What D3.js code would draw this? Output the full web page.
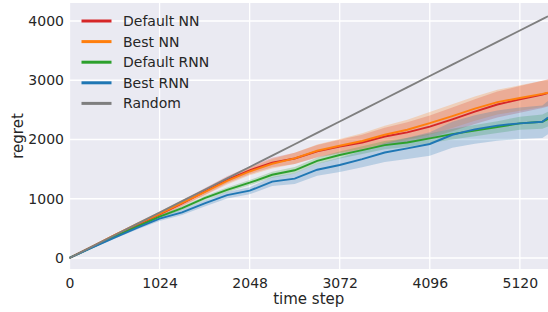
<!DOCTYPE html>
<html>
<head>
<meta charset="utf-8">
<script src="https://cdn.jsdelivr.net/npm/d3@7"></script>
<style>
  body { margin: 0; background: #fff; }
  text { font-family: "DejaVu Sans", sans-serif; fill: #262626; }
</style>
</head>
<body>
<div id="chart"></div>
<script>
const steps = [0, 256, 512, 768, 1024, 1280, 1536, 1792, 2048, 2304, 2560, 2816, 3072,
  3328, 3584, 3840, 4096, 4352, 4608, 4864, 5120, 5376, 5440]

const defaultNN = [0, 190, 380, 560, 735, 920, 1120, 1320, 1480, 1610, 1680, 1800, 1880,
  1950, 2050, 2120, 2216, 2340, 2470, 2590, 2678, 2760, 2785]
const bestNN = [0, 192, 385, 570, 745, 930, 1110, 1300, 1460, 1590, 1680, 1810, 1895,
  1975, 2080, 2165, 2275, 2395, 2520, 2630, 2700, 2770, 2790]
const defaultRNN = [0, 180, 360, 530, 697, 840, 1010, 1150, 1271, 1405, 1480, 1640, 1738,
  1820, 1905, 1950, 2020, 2090, 2150, 2210, 2273, 2300, 2345]
const bestRNN = [0, 175, 345, 510, 663, 770, 920, 1060, 1136, 1290, 1340, 1490, 1570,
  1670, 1780, 1850, 1924, 2080, 2170, 2235, 2273, 2300, 2370]
const randomPolicy = [0, 192, 384, 576, 768, 960, 1152, 1344, 1536, 1728, 1920, 2112, 2304,
  2496, 2688, 2880, 3072, 3264, 3456, 3648, 3840, 4032, 4080]

// half width of the shaded bands
const spreadDefaultNN = [0, 10, 20, 30, 40, 50, 55, 60, 65, 80, 95, 105, 115,
  130, 150, 170, 190, 200, 210, 220, 225, 230, 230]
const spreadBestNN = [0, 10, 20, 30, 40, 50, 55, 60, 65, 80, 95, 105, 115,
  130, 150, 170, 190, 200, 205, 210, 215, 220, 220]
const spreadDefaultRNN = [0, 8, 15, 20, 25, 30, 35, 40, 45, 50, 55, 55, 60,
  65, 70, 75, 80, 90, 95, 100, 110, 120, 125]
const spreadBestRNN = [0, 10, 20, 30, 40, 45, 50, 55, 60, 75, 90, 100, 120,
  140, 160, 180, 200, 220, 240, 255, 265, 275, 280]

const xTicks = [0, 1024, 2048, 3072, 4096, 5120]
const yTicks = [0, 1000, 2000, 3000, 4000]

const series = [
  { name: 'Default NN', values: defaultNN, spread: spreadDefaultNN, color: '#d62728' },
  { name: 'Best NN', values: bestNN, spread: spreadBestNN, color: '#ff7f0e' },
  { name: 'Default RNN', values: defaultRNN, spread: spreadDefaultRNN, color: '#2ca02c' },
  { name: 'Best RNN', values: bestRNN, spread: spreadBestRNN, color: '#1f77b4' },
  { name: 'Random', values: randomPolicy, spread: null, color: '#7f7f7f' }
]

const W = 548, H = 312
const margin = { top: 3, right: 0, bottom: 43, left: 69.5 }
const width = W - margin.left - margin.right
const height = H - margin.top - margin.bottom

const svg = d3.select('#chart').append('svg')
  .attr('width', W)
  .attr('height', H)

const g = svg.append('g')
  .attr('transform', `translate(${margin.left}, ${margin.top})`)

const x = d3.scaleLinear().domain([0, 5440]).range([0, width])
const y = d3.scaleLinear().domain([-186, 4304]).range([height, 0])

g.append('rect')
  .attr('width', width)
  .attr('height', height)
  .attr('fill', '#eaeaf2')

g.selectAll('.vgrid').data(xTicks)
  .enter().append('line')
    .attr('x1', d => x(d)).attr('x2', d => x(d))
    .attr('y1', 0).attr('y2', height)
    .attr('stroke', '#fff').attr('stroke-width', 1.3)

g.selectAll('.hgrid').data(yTicks)
  .enter().append('line')
    .attr('x1', 0).attr('x2', width)
    .attr('y1', d => y(d)).attr('y2', d => y(d))
    .attr('stroke', '#fff').attr('stroke-width', 1.3)

const xAxis = d3.axisBottom(x).tickValues(xTicks).tickFormat(d3.format('d')).tickSize(0).tickPadding(9)
g.append('g')
  .attr('transform', `translate(0, ${height})`)
  .call(xAxis)
  .call(a => a.select('.domain').remove())
  .selectAll('text')
    .style('font-size', '14px')
    .style('font-family', '"DejaVu Sans", sans-serif')
    .attr('fill', '#262626')

const yAxis = d3.axisLeft(y).tickValues(yTicks).tickFormat(d3.format('d')).tickSize(0).tickPadding(5.5)
g.append('g')
  .call(yAxis)
  .call(a => a.select('.domain').remove())
  .selectAll('text')
    .style('font-size', '14px')
    .style('font-family', '"DejaVu Sans", sans-serif')
    .attr('fill', '#262626')

const area = d3.area()
  .x((d, i) => x(steps[i]))
  .y0(d => y(d[0] - d[1]))
  .y1(d => y(d[0] + d[1]))

const line = d3.line()
  .x((d, i) => x(steps[i]))
  .y(d => y(d))

series.filter(s => s.spread).forEach(s => {
  g.append('path')
    .datum(s.values.map((v, i) => [v, s.spread[i]]))
    .attr('d', area)
    .attr('fill', s.color)
    .attr('fill-opacity', 0.24)
})

series.forEach(s => {
  g.append('path')
    .datum(s.values)
    .attr('d', line)
    .attr('fill', 'none')
    .attr('stroke', s.color)
    .attr('stroke-width', 1.9)
})

// legend
const legend = g.append('g')
  .attr('transform', 'translate(12, 18)')

series.forEach((s, i) => {
  const row = legend.append('g').attr('transform', `translate(0, ${i * 20.6})`)
  row.append('line')
    .attr('x1', 0).attr('x2', 30)
    .attr('stroke', s.color)
    .attr('stroke-width', 3)
  row.append('text')
    .attr('x', 41.5)
    .attr('dy', '0.35em')
    .style('font-size', '14px')
    .text(s.name)
})

svg.append('text')
  .attr('x', margin.left + width / 2)
  .attr('y', 304)
  .attr('text-anchor', 'middle')
  .style('font-size', '15px')
  .text('time step')

svg.append('text')
  .attr('transform', `translate(23, ${margin.top + height / 2}) rotate(-90)`)
  .attr('text-anchor', 'middle')
  .style('font-size', '15px')
  .text('regret')
</script>
</body>
</html>
